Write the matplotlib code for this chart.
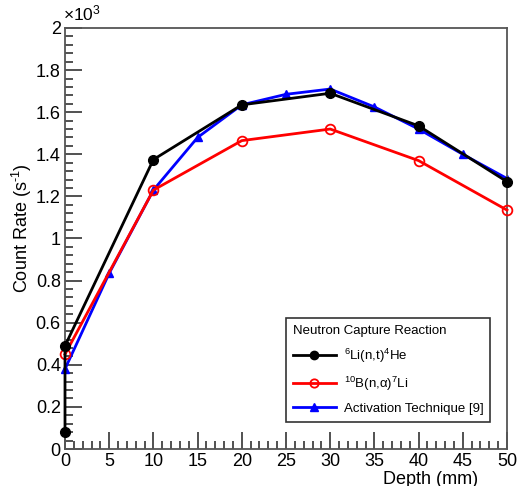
import matplotlib
matplotlib.use("Agg")
import matplotlib.pyplot as plt
from matplotlib.ticker import MultipleLocator
from matplotlib.lines import Line2D

plt.rcParams['font.family'] = ['Liberation Sans', 'DejaVu Sans']
plt.rcParams['mathtext.fontset'] = 'custom'
plt.rcParams['mathtext.rm'] = 'Liberation Sans'
plt.rcParams['mathtext.it'] = 'Liberation Sans:italic'

# data (count rate in units of 10^3 s^-1)
li_depth = [0, 0, 10, 20, 30, 40, 50]
li_rate = [0.08, 0.49, 1.375, 1.635, 1.69, 1.535, 1.27]

b_depth = [0, 10, 20, 30, 40, 50]
b_rate = [0.45, 1.23, 1.465, 1.52, 1.37, 1.135]

act_depth = [0, 5, 10, 15, 20, 25, 30, 35, 40, 45, 50]
act_rate = [0.38, 0.835, 1.23, 1.48, 1.635, 1.685, 1.71, 1.625, 1.52, 1.40, 1.285]

labels = [r'$^{6}$Li(n,t)$^{4}$He', r'$^{10}$B(n,α)$^{7}$Li', 'Activation Technique [9]']

fig = plt.figure(figsize=(5.17, 4.86), dpi=100)
ax = fig.add_axes([65/517, 37/486, 442/517, 421/486])

ax.plot(act_depth, act_rate, color='#0000ff', lw=2, marker='^', ms=6, zorder=2)
ax.plot(b_depth, b_rate, color='#ff0000', lw=2, marker='o', ms=7, mfc='none', mew=1.3, zorder=3)
ax.plot(li_depth, li_rate, color='#000000', lw=2, marker='o', ms=7, zorder=4)

ax.set_xlim(0, 50)
ax.set_ylim(0, 2)
ax.xaxis.set_major_locator(MultipleLocator(5))
ax.xaxis.set_minor_locator(MultipleLocator(1))
ax.yaxis.set_minor_locator(MultipleLocator(0.04))
ax.set_yticks([0, 0.2, 0.4, 0.6, 0.8, 1.0, 1.2, 1.4, 1.6, 1.8, 2.0])
ax.set_yticklabels(['0', '0.2', '0.4', '0.6', '0.8', '1', '1.2', '1.4', '1.6', '1.8', '2'])
ax.tick_params(which='both', direction='in', top=False, right=False, labelsize=13, color='#333333', width=1.2)
ax.tick_params(which='major', length=12, pad=3)
ax.tick_params(which='minor', length=6)
for s in ax.spines.values():
    s.set_color('#555555')
    s.set_linewidth(1.3)
for l in ax.lines:
    l.set_clip_on(False)

fig.text(63/517, 1 - 13/486, r'$\times$10$^{3}$', fontsize=12.5, ha='left', va='center')
fig.text(22/517, 1 - 228/486, r'Count Rate (s$^{\text{-}1}$)', rotation=90, fontsize=13, ha='center', va='center')
fig.text(478/517, 1 - 479/486, 'Depth (mm)', fontsize=13, ha='right', va='center')

handles = [
    Line2D([], [], color='black', lw=2, marker='o', ms=6),
    Line2D([], [], color='red', lw=2, marker='o', ms=6, mfc='none', mew=1.3),
    Line2D([], [], color='blue', lw=2, marker='^', ms=6),
]
leg = ax.legend(handles, labels, title='Neutron Capture Reaction', loc='upper left',
                bbox_to_anchor=((286 - 65) / 442, (449 - 318) / 421), borderaxespad=0,
                fontsize=9.5, title_fontsize=9.5, frameon=True, fancybox=False, edgecolor='black',
                handlelength=3.3, handletextpad=0.6, borderpad=0.5, labelspacing=0.75, alignment='left')
leg.get_frame().set_linewidth(1.2)

fig.savefig('out.png', dpi=100)
